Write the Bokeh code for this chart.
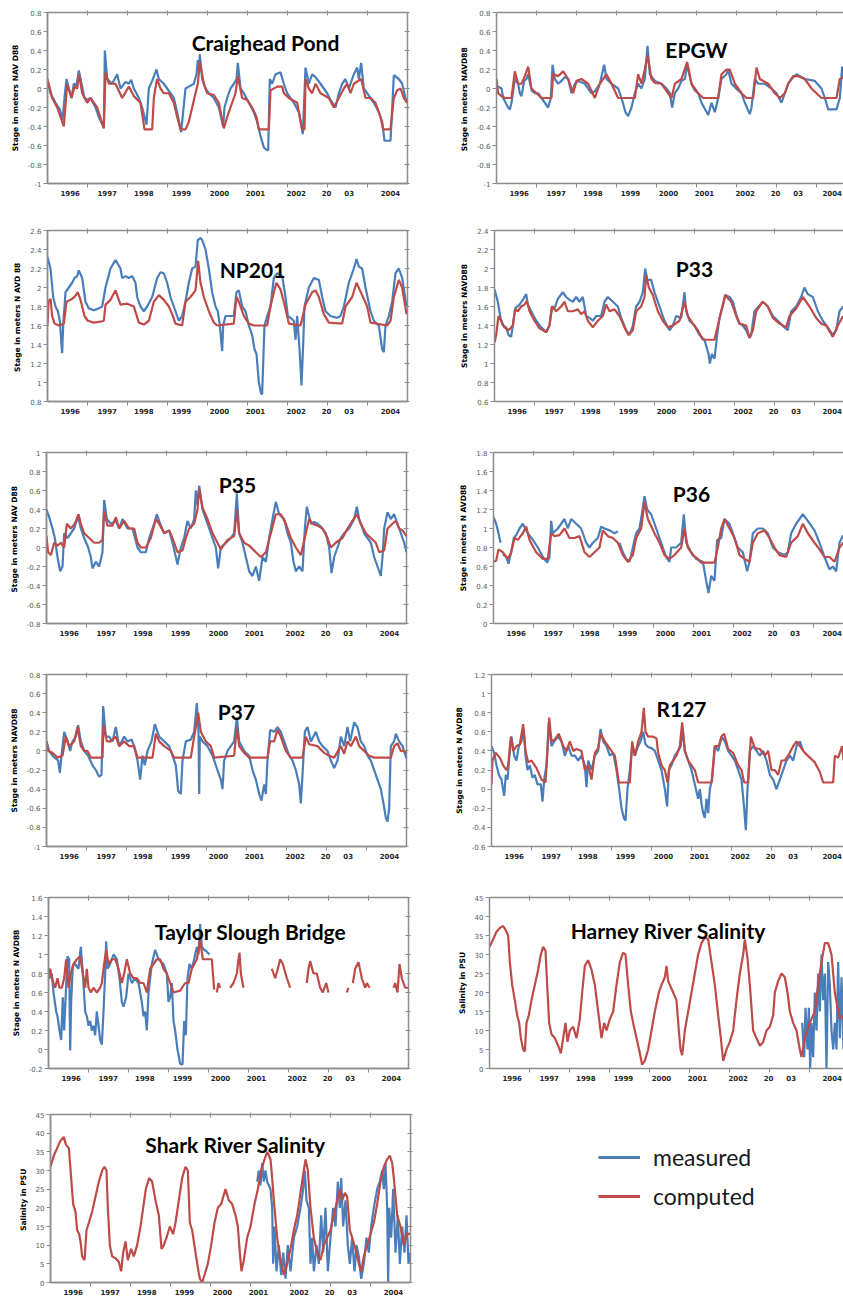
from bokeh.plotting import figure
from bokeh.layouts import row, column
from bokeh.models import Range1d, FixedTicker, LinearAxis, Label, Legend, LegendItem
from bokeh.embed import file_html
from bokeh.resources import INLINE

NAN = float("nan")

# ---------------- axis data (time in months since Jan 1996) ----------------
X_LABEL_POS = [6.8, 17.9, 28.9, 40.2, 51.6, 62.4, 74.6, 83.7, 90.5, 102.9]
X_LABEL_TEXT = ["1996", "1997", "1998", "1999", "2000", "2001", "2002", "20", "03", "2004"]
YEAR_BOUNDS = [12, 24, 36, 48, 60, 72, 84, 96]

YT_M1_08 = [-1, -0.8, -0.6, -0.4, -0.2, 0, 0.2, 0.4, 0.6, 0.8]
YT_08_26 = [0.8, 1, 1.2, 1.4, 1.6, 1.8, 2, 2.2, 2.4, 2.6]
YT_06_24 = [0.6, 0.8, 1, 1.2, 1.4, 1.6, 1.8, 2, 2.2, 2.4]
YT_M08_1 = [-0.8, -0.6, -0.4, -0.2, 0, 0.2, 0.4, 0.6, 0.8, 1]
YT_0_18 = [0, 0.2, 0.4, 0.6, 0.8, 1, 1.2, 1.4, 1.6, 1.8]
YT_M06_12 = [-0.6, -0.4, -0.2, 0, 0.2, 0.4, 0.6, 0.8, 1, 1.2]
YT_M02_16 = [-0.2, 0, 0.2, 0.4, 0.6, 0.8, 1, 1.2, 1.4, 1.6]
YT_SAL = [0, 5, 10, 15, 20, 25, 30, 35, 40, 45]

# ---------------- series: (month, value) ----------------
craighead_measured = [(0,.08),(0.9,-.05),(2.4,-.15),(3.7,-.22),(4.5,-.33),(5.1,-.1),(5.7,.1),(6.4,0),(7.2,-.1),(7.9,.05),(8.7,.03),(9.4,.19),(11.1,-.1),(12.1,-.12),(12.9,-.1),(14.4,-.2),(15.4,-.3),(16.9,-.41),(17.2,.4),(17.9,.1),(19.4,.05),(20.9,.15),(21.9,0),(23.4,.07),(24.4,.05),(25.1,.09),(25.9,0),(27.4,-.1),(28.4,-.2),(29.7,-.38),(30.4,0),(31.4,.08),(32.7,.2),(33.4,.1),(34.9,.05),(36.9,-.05),(37.9,-.1),(38.9,-.25),(40.1,-.46),(41.4,0),(42.4,.02),(43.9,.05),(44.7,.15),(45.1,.3),(45.4,.2),(45.7,.36),(46.4,.1),(47.4,0),(48.4,-.05),(49.9,-.1),(51.4,-.2),(52.7,-.4),(53.1,-.2),(53.9,-.1),(54.9,0),(55.9,.05),(56.7,.1),(57.1,.27),(57.9,0),(58.9,-.05),(60.4,-.15),(61.9,-.25),(62.9,-.35),(63.9,-.5),(64.9,-.62),(65.9,-.65),(66.2,-.65),(66.7,.1),(67.4,.05),(68.4,.15),(69.9,.17),(70.9,.05),(71.9,-.05),(73.9,-.15),(75.4,-.25),(76.6,-.48),(77.4,.22),(78.4,.05),(79.4,.15),(80.4,.12),(81.9,.05),(83.9,-.05),(84.9,-.12),(86.4,-.2),(87.4,-.05),(88.4,.05),(89.4,.1),(90.4,0),(91.9,.15),(92.9,.22),(93.4,.1),(94.1,.27),(94.9,0),(95.9,-.05),(97.9,-.15),(99.4,-.25),(100.4,-.35),(101.1,-.55),(102.9,-.55),(103.9,.14),(105.4,.1),(106.4,.05),(107.4,-.1),(107.9,-.15)]
craighead_computed = [(0,.1),(1.4,-.1),(2.9,-.2),(4.4,-.35),(4.9,-.4),(5.9,.05),(7.2,-.1),(8.1,.02),(8.9,0),(9.5,.15),(10.4,-.05),(11.9,-.15),(12.9,-.1),(14.9,-.2),(16.9,-.42),(17.4,.17),(18.4,.05),(20.4,.05),(22.4,-.1),(24.4,.02),(25.9,-.08),(27.9,-.15),(29.1,-.43),(31.4,-.43),(31.9,-.1),(32.6,.05),(32.9,.1),(33.9,0),(34.9,-.05),(36.4,-.05),(37.9,-.15),(38.9,-.3),(39.9,-.43),(41.4,-.43),(42.4,-.35),(43.4,-.2),(44.4,-.05),(45.1,.05),(45.7,.28),(46.9,.05),(47.9,-.05),(49.9,-.07),(51.4,-.15),(52.9,-.42),(53.9,-.3),(54.9,-.2),(56.4,-.05),(57.1,.13),(58.4,-.1),(59.9,-.12),(61.4,-.2),(62.7,-.3),(63.4,-.43),(66.4,-.43),(66.9,-.02),(68.9,.02),(70.4,.02),(70.9,-.05),(72.4,-.1),(74.9,-.15),(76.4,-.43),(77.1,-.43),(77.4,.1),(78.4,0),(79.4,-.05),(80.4,.05),(81.9,-.05),(84.4,-.1),(85.9,-.2),(87.4,-.1),(88.9,0),(89.9,.05),(90.9,-.05),(91.9,.05),(94.1,.1),(95.4,-.1),(96.9,-.1),(98.4,-.15),(99.9,-.3),(100.7,-.43),(102.9,-.43),(103.9,-.1),(104.9,-.02),(105.9,0),(106.9,-.1),(107.9,-.15)]

epgw_measured = [(0.5,.02),(1.5,0),(2,-.1),(3.5,-.2),(4,-.22),(4.5,-.15),(5.5,.1),(6.5,.05),(7,-.05),(7.5,-.08),(8.3,.08),(9,.1),(9.5,.15),(10.5,-.02),(11.5,-.05),(12.5,-.05),(13.5,-.1),(15.5,-.2),(16.3,-.1),(16.8,.25),(17.5,.1),(18.5,.05),(19.5,.08),(20.5,.12),(21.5,.1),(22.5,-.05),(23.5,.05),(24.5,.08),(26.5,.05),(27.5,0),(28.5,-.05),(29.5,-.03),(31,.05),(32.3,.25),(33,.1),(34.5,.05),(36.5,0),(37.5,-.1),(38.7,-.25),(39.5,-.29),(40.5,-.2),(41.5,-.05),(42.5,.05),(43.5,0),(44.5,.1),(45.3,.45),(46,.15),(47.5,.08),(49.5,.05),(51,0),(52,-.05),(52.7,-.2),(53.5,-.05),(54.5,0),(55.5,.08),(56.5,.1),(57.2,.25),(58.5,.05),(59.5,-.02),(60.5,-.05),(61.5,-.15),(63.5,-.28),(64.5,-.15),(65.5,-.25),(66.5,-.1),(67.5,.1),(69,.15),(69.5,.2),(70.5,.05),(72.5,-.02),(73.5,-.05),(74.5,-.15),(76,-.27),(76.5,-.2),(77.5,.1),(78.5,.05),(80.5,.05),(82.5,0),(84,-.05),(85.5,-.15),(86.5,-.05),(87.5,.05),(88.5,.1),(90,.15),(92.5,.1),(95.5,.08),(97.5,0),(98.5,-.1),(99.5,-.22),(102,-.22),(103,-.1),(103.7,.23),(104.1,.1)]
epgw_computed = [(0,.1),(0.5,-.05),(1.5,-.08),(2.5,-.1),(4.5,-.1),(5.5,.18),(6.5,.05),(7.5,.05),(8.5,.13),(9.5,.23),(10.5,0),(12,-.05),(13.5,-.1),(16.5,-.1),(17,.15),(18.5,.13),(20,.18),(21.5,.1),(23,-.05),(24,.08),(25.5,.1),(27.5,.05),(29.5,-.1),(31,.05),(32,.1),(33,.15),(34.5,.05),(36.5,-.1),(41.5,-.1),(42.5,.15),(43.5,.05),(44.5,.2),(45.3,.35),(46.5,.1),(47.5,.06),(49.5,.05),(51.5,-.05),(52.5,-.1),(53.5,.05),(55.5,.1),(57.2,.28),(58.5,.05),(60.5,-.05),(62,-.1),(66.5,-.1),(67.5,.15),(69,.2),(70,.2),(71.5,.05),(73.5,-.05),(75,-.1),(77,-.1),(78,.22),(79,.1),(81.5,.05),(83.5,-.05),(85,-.1),(86.5,-.05),(87.5,.05),(89,.13),(90.5,.13),(92.5,.1),(94.5,0),(96,-.05),(97.5,-.1),(102,-.1),(103,.1),(104.1,.12)]

np201_measured = [(0,2.32),(0.9,2.2),(1.7,1.9),(2.4,1.8),(3.1,1.75),(3.7,1.65),(4.2,1.4),(4.4,1.31),(4.7,1.6),(5.4,1.95),(6.4,2.0),(7.4,2.05),(8.1,2.1),(8.9,2.12),(9.4,2.18),(10.4,2.1),(11.4,1.85),(12.4,1.78),(13.9,1.76),(15.4,1.78),(16.4,1.8),(17.4,2.0),(18.9,2.2),(20.4,2.29),(21.9,2.2),(22.4,2.1),(23.4,2.12),(24.4,2.1),(25.4,2.12),(26.4,2.05),(26.9,1.9),(27.9,1.8),(28.9,1.75),(29.9,1.8),(31.4,1.9),(32.9,2.1),(33.9,2.16),(34.9,2.15),(35.9,2.05),(36.9,1.9),(38.4,1.75),(39.4,1.65),(40.4,1.7),(41.4,1.85),(42.4,2.05),(43.4,2.2),(44.4,2.22),(45.1,2.5),(45.9,2.52),(46.4,2.5),(47.4,2.4),(48.4,2.2),(49.4,1.95),(50.4,1.8),(51.1,1.75),(51.7,1.6),(52.4,1.33),(52.7,1.6),(53.4,1.7),(54.9,1.7),(55.9,1.7),(56.7,1.95),(57.4,1.97),(58.4,1.8),(59.4,1.75),(60.4,1.6),(61.4,1.5),(62.1,1.35),(62.7,1.3),(63.4,1.0),(64.1,0.88),(64.4,0.88),(64.8,1.3),(65.1,1.6),(65.9,1.7),(66.9,1.8),(67.9,2.1),(68.9,2.15),(70.4,2.12),(71.4,1.9),(72.1,1.7),(72.9,1.68),(73.9,1.65),(74.4,1.45),(74.9,1.7),(75.7,1.3),(76.2,0.97),(76.7,1.4),(77.1,1.8),(78.4,2.0),(79.9,2.1),(81.4,2.08),(82.4,1.9),(83.4,1.75),(84.9,1.7),(86.9,1.68),(87.9,1.7),(88.9,1.8),(90.4,2.05),(91.9,2.2),(92.7,2.3),(93.4,2.22),(94.4,2.2),(95.4,2.0),(96.9,1.75),(97.9,1.65),(99.4,1.6),(100.4,1.35),(100.9,1.32),(101.4,1.6),(102.4,1.7),(103.4,1.85),(104.4,2.15),(105.4,2.2),(106.4,2.1),(107.7,1.8)]
np201_computed = [(0,1.6),(0.3,1.85),(0.9,1.88),(1.4,1.7),(2.1,1.62),(3.4,1.6),(4.9,1.62),(5.7,1.85),(6.9,1.87),(8.1,1.9),(9.1,1.95),(9.9,1.87),(11.1,1.7),(12.1,1.65),(13.9,1.63),(15.9,1.64),(16.9,1.65),(17.4,1.82),(18.9,1.87),(20.4,1.97),(21.9,1.82),(23.9,1.83),(25.9,1.8),(27.4,1.63),(28.9,1.61),(30.4,1.65),(31.9,1.85),(33.4,1.92),(34.9,1.87),(36.4,1.8),(37.4,1.72),(38.4,1.62),(40.4,1.6),(41.4,1.85),(42.9,1.9),(44.4,1.97),(45.2,2.28),(45.9,2.05),(46.9,1.9),(48.4,1.75),(49.9,1.63),(50.9,1.6),(55.9,1.62),(56.7,1.9),(57.4,1.85),(58.9,1.7),(60.4,1.62),(61.9,1.6),(65.9,1.6),(66.9,1.8),(67.9,1.95),(68.7,2.05),(69.9,1.98),(70.9,1.85),(72.4,1.62),(75.9,1.6),(77.4,1.82),(79.4,1.95),(80.4,1.97),(81.4,1.9),(82.9,1.72),(84.4,1.63),(88.4,1.62),(89.4,1.8),(91.4,1.9),(92.7,2.05),(94.4,1.92),(95.9,1.8),(96.9,1.63),(101.9,1.6),(102.9,1.65),(103.9,1.9),(105.4,2.08),(106.4,2.0),(107.7,1.72)]

p33_measured = [(0,1.78),(1,1.65),(1.8,1.48),(2.5,1.4),(3.5,1.38),(4.2,1.3),(5,1.28),(5.5,1.4),(6.2,1.58),(7.5,1.62),(8.5,1.67),(9.5,1.73),(10,1.62),(11,1.55),(12.5,1.45),(14,1.38),(15.5,1.33),(16.5,1.4),(17.2,1.6),(18,1.58),(19,1.68),(20.5,1.75),(21.5,1.7),(22.5,1.67),(23.5,1.65),(24.5,1.7),(25.5,1.65),(26.5,1.7),(27.5,1.5),(28.5,1.48),(29.5,1.45),(30.5,1.5),(32,1.5),(33,1.65),(34,1.7),(35.5,1.65),(37,1.6),(38,1.48),(39.5,1.35),(40.5,1.3),(41.5,1.4),(42.5,1.6),(43.5,1.65),(44.5,1.75),(45.2,2.0),(45.8,1.88),(47,1.88),(48,1.75),(49.5,1.6),(51,1.45),(52.5,1.35),(53.5,1.4),(54.5,1.5),(56,1.48),(57,1.75),(57.5,1.55),(58.5,1.45),(60,1.4),(61.5,1.3),(63,1.25),(64.2,1.1),(64.6,1.0),(65.2,1.1),(66,1.05),(66.8,1.3),(67.5,1.48),(68.5,1.6),(69.2,1.72),(70.5,1.7),(71.5,1.65),(72.5,1.52),(73.5,1.42),(74.5,1.4),(75.5,1.35),(76.5,1.27),(77,1.3),(78,1.55),(79.2,1.6),(80.5,1.65),(82,1.6),(83.5,1.5),(85,1.45),(87,1.38),(88,1.35),(89,1.55),(90.5,1.6),(92,1.7),(93,1.8),(94,1.73),(95.5,1.7),(97,1.55),(98.5,1.45),(100,1.38),(101.5,1.3),(102.5,1.35),(103.5,1.55),(104.6,1.6)]
p33_computed = [(0,1.22),(0.5,1.3),(1.2,1.5),(2,1.45),(3,1.38),(4.2,1.35),(5.5,1.4),(6.2,1.57),(7,1.55),(8,1.6),(9,1.62),(9.7,1.66),(10.5,1.55),(12,1.45),(13.5,1.37),(15.5,1.33),(16.5,1.4),(17.3,1.6),(18.5,1.55),(20,1.6),(21,1.65),(22,1.55),(23.5,1.55),(25,1.57),(26,1.52),(27,1.55),(28,1.45),(29.5,1.38),(31,1.45),(32.5,1.5),(33.5,1.62),(34.5,1.55),(36,1.57),(37.5,1.5),(39,1.38),(40.2,1.3),(41.5,1.35),(42.5,1.55),(44,1.6),(45,1.7),(45.5,1.93),(46.3,1.8),(47.5,1.72),(49,1.55),(50.5,1.45),(52,1.38),(53.5,1.4),(55.5,1.45),(57,1.65),(58,1.5),(59.5,1.42),(61,1.35),(62.5,1.25),(66,1.25),(67,1.4),(68,1.55),(69.2,1.72),(71,1.65),(72.5,1.5),(73.5,1.42),(75.5,1.4),(76.5,1.27),(77.5,1.35),(78.5,1.55),(80.5,1.65),(82,1.6),(83.5,1.48),(85.5,1.42),(87.5,1.38),(88.5,1.5),(90.5,1.58),(92.5,1.7),(94.5,1.6),(96.5,1.48),(98,1.42),(99.5,1.4),(101.5,1.28),(103,1.4),(104.6,1.5)]

p35_measured = [(0,.4),(0.8,.32),(1.8,.2),(2.5,.1),(3.3,-.1),(4.1,-.25),(4.8,-.2),(5.3,.15),(6.3,.1),(7.3,.15),(8.3,.2),(9.5,.33),(10.3,.2),(11.3,.1),(12.5,0),(13.3,-.1),(13.8,-.22),(14.8,-.15),(15.8,-.2),(16.8,-.05),(17.3,.5),(18.1,.3),(19.3,.25),(20.8,.28),(21.8,.2),(22.8,.3),(24.3,.2),(25.8,.2),(27.3,0),(28.3,-.05),(29.8,-.05),(30.8,.1),(32.3,.25),(33.1,.35),(34.1,.25),(35.3,.15),(36.8,.18),(37.8,.05),(38.8,-.1),(39.3,-.18),(40.3,0),(41.3,.1),(42.3,.28),(43.3,.2),(44.3,.3),(44.8,.6),(45.3,.45),(45.8,.65),(46.8,.4),(48.3,.25),(49.8,.1),(50.8,0),(51.5,-.22),(52.3,0),(53.8,.05),(55.3,.1),(56.3,.15),(57.1,.57),(57.8,.15),(58.8,.05),(59.8,-.1),(60.8,-.25),(61.8,-.3),(62.8,-.2),(63.8,-.35),(64.8,-.1),(65.8,-.15),(66.8,.1),(67.8,.3),(68.8,.48),(69.8,.35),(71.3,.3),(72.3,.15),(73.3,.05),(74.1,-.15),(74.8,-.25),(75.8,-.2),(76.8,-.25),(77.5,.2),(78.1,.43),(79.3,.25),(80.3,.27),(81.3,.25),(82.3,.22),(83.8,.15),(84.8,0),(85.5,-.27),(86.3,-.1),(87.3,0),(88.3,.1),(89.3,.15),(90.8,.2),(92.3,.3),(93.1,.43),(93.8,.3),(95.3,.15),(96.3,.1),(97.3,.05),(98.3,-.1),(99.3,-.2),(100.3,-.3),(100.8,-.1),(101.3,.2),(102.3,.37),(103.3,.3),(104.3,.35),(105.3,.25),(106.3,.15),(107.3,.05),(108,-.05)]
p35_computed = [(0,.12),(0.5,-.05),(1.3,-.08),(2.3,.05),(3.3,.02),(4.3,.05),(5.3,0),(6.1,.25),(7.3,.2),(8.5,.25),(9.6,.35),(10.3,.25),(11.3,.15),(12.8,.1),(14.3,.05),(15.8,.05),(16.8,.08),(17.3,.38),(18.3,.23),(19.8,.23),(20.8,.32),(21.8,.2),(23.3,.28),(24.8,.2),(26.3,.2),(27.3,.05),(28.3,0),(29.8,0),(31.3,.1),(32.8,.3),(33.8,.25),(35.3,.15),(36.8,.18),(37.8,.1),(39.3,-.05),(40.8,-.03),(41.8,.1),(42.8,.2),(44.3,.25),(45.3,.4),(45.8,.62),(46.8,.42),(48.3,.3),(49.8,.15),(51.3,.05),(52.3,-.02),(54.3,.08),(56.3,.12),(57.1,.4),(57.8,.15),(59.3,.05),(60.8,.02),(62.8,-.05),(64.3,-.1),(65.8,-.05),(67.3,.15),(68.8,.35),(70.3,.35),(71.8,.25),(73.3,.1),(74.8,0),(76.3,-.08),(77.8,.15),(78.8,.3),(79.8,.25),(81.3,.23),(82.8,.2),(84.3,.1),(85.3,0),(86.8,.05),(88.8,.1),(90.3,.2),(91.8,.28),(93.1,.35),(94.3,.25),(95.8,.15),(97.3,.1),(98.8,.05),(99.8,-.05),(101.3,-.03),(102.3,.2),(103.8,.25),(104.8,.28),(105.8,.2),(106.8,.18),(108,.12)]

p36_measured = [(0,1.12),(0.8,1.05),(1.5,.95),(2.1,.85),(NAN,NAN),(2.8,.73),(3.8,.7),(4.5,.63),(5.3,.75),(6.1,.9),(6.8,.93),(7.8,1.0),(8.8,1.05),(9.5,1.0),(10.3,.95),(11.8,.88),(13.3,.8),(14.8,.7),(16.1,.64),(16.8,.7),(17.3,1.08),(17.8,.95),(19.3,1.0),(20.3,1.05),(21.3,1.1),(22.3,1.0),(23.3,1.1),(24.8,1.05),(26.3,1.0),(27.8,.85),(28.8,.8),(29.8,.85),(31.3,.9),(32.3,1.02),(33.3,1.0),(34.8,.98),(36.3,.95),(37.3,.97),(NAN,NAN),(37.8,.85),(38.8,.75),(39.8,.68),(40.8,.65),(41.8,.8),(42.8,.95),(43.8,1.0),(44.5,1.15),(45.3,1.34),(46.1,1.2),(47.3,1.15),(48.8,1.0),(50.3,.85),(51.8,.7),(52.8,.65),(53.3,.8),(54.8,.8),(56.3,.85),(57.1,1.15),(57.8,.85),(59.3,.75),(60.8,.68),(62.8,.65),(63.8,.45),(64.5,.32),(65.3,.5),(66.3,.45),(67.1,.88),(68.3,.9),(69.3,1.1),(70.8,1.05),(71.8,.95),(73.3,.8),(74.8,.75),(76.1,.55),(76.8,.65),(77.8,.95),(79.3,1.0),(80.8,1.0),(82.3,.95),(83.8,.8),(85.3,.75),(87.3,.72),(88.3,.75),(89.3,.95),(90.8,1.05),(92.8,1.15),(94.3,1.08),(96.3,.98),(97.8,.85),(99.3,.7),(100.8,.57),(101.8,.6),(102.8,.55),(103.8,.85),(104.9,.93)]
p36_computed = [(0,.65),(0.8,.66),(1.5,.78),(2.8,.75),(4.3,.68),(5.3,.75),(6.3,.9),(7.3,.88),(8.8,.95),(9.8,1.02),(10.8,.88),(12.8,.75),(14.8,.68),(16.3,.68),(17.3,.95),(18.3,.92),(19.8,.93),(21.3,1.0),(22.8,.9),(24.3,.9),(25.8,.92),(27.3,.75),(28.8,.7),(30.3,.75),(31.8,.8),(32.8,.98),(34.3,.92),(35.8,.9),(37.3,.85),(38.8,.72),(40.3,.65),(41.8,.72),(42.8,.9),(44.3,1.0),(45.3,1.28),(46.3,1.1),(48.3,.95),(49.8,.85),(51.3,.72),(52.8,.68),(54.3,.72),(56.3,.8),(57.3,1.0),(58.3,.8),(59.8,.72),(61.3,.68),(62.3,.64),(66.3,.64),(67.3,.8),(68.3,1.0),(69.3,1.1),(70.8,1.0),(72.3,.9),(73.8,.72),(75.3,.68),(76.8,.65),(77.8,.85),(79.3,.95),(81.3,.98),(82.8,.9),(84.3,.8),(85.8,.72),(87.8,.7),(89.3,.85),(91.3,.92),(92.8,1.05),(94.3,.95),(96.3,.85),(97.8,.78),(99.3,.7),(100.8,.7),(102.3,.65),(103.8,.8),(104.9,.85)]

p37_measured = [(0,.1),(0.8,0),(1.8,-.05),(2.8,-.08),(3.5,-.1),(4,-.23),(4.5,-.05),(5.3,.2),(6.3,.1),(7.1,0),(7.8,.1),(8.8,.15),(9.5,.27),(10.3,.1),(11.3,0),(12.5,-.05),(13.8,-.15),(14.8,-.2),(15.8,-.27),(16.5,-.25),(17,.47),(17.8,.15),(18.8,.15),(19.8,.1),(20.8,.25),(21.8,.05),(23.3,.15),(24.3,.1),(25.5,.12),(26.3,.05),(27.3,-.1),(28.1,-.3),(28.8,-.05),(29.5,-.15),(30.3,0),(31.5,.1),(32.5,.28),(33.8,.15),(35.3,.1),(36.8,.05),(37.8,-.05),(38.8,-.15),(39.5,-.42),(40.3,-.45),(40.8,-.1),(41.8,.1),(43.3,.12),(44.3,.2),(45.1,.5),(45.6,.2),(45.8,-.45),(46,.15),(46.8,.1),(48.3,.05),(49.8,-.05),(51.3,-.2),(52.3,-.3),(52.8,-.4),(53.3,-.1),(54.3,0),(55.3,.05),(56.3,.1),(57.1,.35),(57.8,.1),(59.3,0),(60.8,-.05),(61.8,-.2),(62.8,-.3),(63.8,-.45),(64.5,-.52),(65.3,-.35),(65.8,-.45),(66.3,-.1),(67.1,.22),(68.3,.2),(69.3,.25),(70.3,.2),(71.3,.1),(72.8,-.05),(73.8,-.1),(74.8,-.2),(75.8,-.35),(76.3,-.55),(76.8,-.25),(77.5,.2),(78.3,.25),(79.3,.1),(80.8,.2),(81.8,.1),(82.8,.05),(84.3,0),(85.3,-.1),(86.3,-.18),(87.3,-.1),(88.3,.15),(89.3,.05),(90.3,.25),(91.1,.1),(92.3,.3),(93.3,.25),(94.3,.1),(95.3,.05),(96.3,-.05),(97.3,-.1),(98.3,-.2),(99.3,-.3),(100.3,-.4),(101.1,-.55),(101.8,-.7),(102.3,-.74),(102.8,-.6),(103.3,.05),(104.3,.1),(104.8,.18),(105.8,.1),(106.8,.05),(108,-.08)]
p37_computed = [(0,.1),(0.5,0),(1.8,-.02),(3.3,-.07),(4.8,-.05),(5.8,.15),(6.8,.05),(8.3,.1),(9.3,.25),(10.3,.05),(11.3,0),(12.3,0),(13.3,-.07),(16.8,-.07),(17.1,.27),(18.1,.1),(19.3,.1),(20.8,.15),(21.8,.05),(23.3,.1),(24.8,.05),(26.3,.05),(27.3,-.07),(31.8,-.07),(32.8,.18),(33.8,.1),(35.3,.05),(37.3,0),(38.3,-.07),(43.3,-.07),(44.3,.15),(45.5,.4),(46.3,.2),(47.8,.1),(49.3,.05),(50.3,-.07),(56.3,-.05),(57.1,.25),(57.8,.05),(59.3,-.02),(60.8,-.07),(66.3,-.07),(67.1,.1),(68.3,.1),(69.3,.22),(70.3,.15),(71.8,0),(73.3,-.07),(76.8,-.07),(77.8,.15),(78.8,.07),(81.3,.05),(83.3,-.02),(84.8,-.05),(86.3,-.07),(88.3,.05),(89.3,-.03),(90.3,.1),(91.3,.05),(92.8,.15),(93.8,.05),(95.3,0),(96.8,-.05),(98.3,-.07),(103.3,-.07),(104.3,.05),(105.3,.08),(106.3,0),(107.3,0),(108,-.02)]

r127_measured = [(0,.45),(0.8,.38),(1.5,.25),(2.2,.15),(3,.1),(3.8,-.07),(4.3,.15),(4.8,.1),(5.5,.4),(6,.55),(6.8,.35),(7.5,.3),(8.2,.45),(9,.5),(9.7,.62),(10.2,.35),(10.8,.2),(11.5,.25),(12.3,.12),(13,.15),(13.8,.05),(14.8,.05),(15.3,-.13),(15.8,.1),(16.5,.25),(17.2,.7),(18,.45),(18.8,.5),(20,.55),(21,.5),(22,.35),(23,.45),(24,.35),(25,.35),(26,.3),(27,.35),(28,.25),(28.5,.02),(29,.3),(30,.2),(31,.35),(32,.4),(32.7,.63),(33.5,.5),(34.5,.45),(35.5,.35),(36.5,.38),(37.5,.2),(38.3,0),(39,-.2),(39.7,-.3),(40.2,-.33),(40.8,0),(41.5,.2),(42.2,.45),(43,.35),(44,.45),(44.7,.5),(45.5,.6),(46.2,.47),(47,.44),(48,.43),(49,.4),(50,.3),(51,.2),(52,0),(52.7,-.18),(53.2,.2),(54,.25),(55,.35),(56,.4),(56.8,.45),(57.3,.65),(58,.4),(59,.3),(60,.2),(61,.05),(62,-.1),(62.5,0),(63,-.15),(63.5,-.25),(64,-.3),(64.5,-.1),(65,-.25),(65.5,0),(66.2,.1),(67,.45),(68,.4),(69,.55),(70,.5),(71,.4),(72,.35),(73,.3),(74,.2),(75,.1),(75.8,-.2),(76.3,-.43),(76.8,0),(77.5,.4),(78.5,.45),(79.5,.4),(80.5,.35),(81.5,.4),(82.5,.3),(83.5,.15),(84.5,.1),(85.5,0),(86.5,.1),(87.5,.2),(88.5,.3),(89.5,.35),(90.5,.3),(91.5,.45),(92.5,.5),(93.5,.4)]
r127_computed = [(0,.05),(0.3,.3),(1.2,.38),(2.5,.33),(3.5,.25),(4.5,.2),(5,.25),(5.8,.55),(6.5,.4),(7.5,.45),(8.5,.47),(9.5,.68),(10.2,.4),(11,.28),(12,.3),(13.5,.22),(15,.1),(16.2,.07),(16.8,.4),(17.3,.75),(18,.5),(19,.52),(20.2,.58),(21.5,.45),(22.5,.4),(23.5,.5),(24.5,.4),(25.5,.42),(27,.4),(28,.2),(29,.25),(30,.1),(31,.38),(32,.43),(32.7,.58),(34,.5),(35,.45),(36,.4),(37,.35),(38.2,.07),(41.5,.07),(42.2,.5),(43,.35),(44,.5),(45,.6),(45.7,.85),(46.2,.6),(47,.55),(48.5,.55),(49.5,.53),(50,.38),(51,.25),(52,.2),(52.8,.07),(53.5,.25),(54.5,.3),(55.5,.35),(56.5,.45),(57.2,.7),(58,.4),(59,.3),(60,.25),(61,.2),(62,.07),(66,.07),(67,.45),(68.2,.45),(69,.55),(69.8,.58),(71,.42),(72.5,.38),(74,.25),(75,.2),(75.8,.07),(77,.07),(77.8,.55),(79,.43),(80.5,.42),(82,.35),(83,.4),(84,.2),(85,.2),(86,.15),(87,.3),(88,.3),(89,.35),(90.5,.45),(91.5,.5),(92.5,.45),(94,.38),(95.5,.33),(97,.28),(98.5,.18),(99.5,.07),(102.5,.07),(103,.35),(104,.33),(105.2,.45),(105.6,.3)]

taylor_measured = [(0,.85),(0.5,.75),(1,.8),(1.5,.6),(2.3,.4),(2.7,.35),(3.3,.2),(3.8,.1),(4.3,.55),(4.7,.2),(5.2,.6),(5.7,.98),(6.2,.95),(6.5,-.01),(6.8,.5),(7.3,.88),(8,.9),(9,.85),(9.7,1.08),(10.3,.8),(11,.4),(11.5,.35),(12,.25),(12.5,.3),(13,.2),(13.5,.25),(14,.15),(14.5,.4),(15,.25),(15.5,.1),(16,.05),(16.5,.4),(17,.8),(17.3,1.14),(17.7,.85),(18.5,.9),(19.5,1.0),(20.5,.95),(21.3,.75),(22,.5),(22.5,.45),(23.3,.55),(24,.8),(25,.7),(26,.75),(27,.7),(28,.5),(28.5,.35),(29,.4),(29.5,.2),(30,.6),(31,.9),(32,1.05),(33,.95),(34.5,.9),(35.5,.8),(36,.5),(36.5,.55),(37,.7),(37.5,.3),(38,.2),(38.7,0),(39.5,-.15),(40.2,-.16),(40.7,.3),(41.2,.15),(41.7,.75),(42.3,.9),(43,.85),(43.7,.95),(44.5,1.08),(45,1.0),(45.5,1.32),(46,1.08),(46.7,1.05),(47.5,1.03),(48.3,1.0)]
taylor_computed = [(0,.75),(0.5,.85),(1,.75),(1.5,.7),(2,.65),(2.7,.75),(3.3,.65),(4,.65),(4.7,.75),(5.3,.95),(6,.65),(6.7,.8),(7.5,.9),(8.5,.95),(9.5,.98),(10.3,.8),(11,.65),(11.5,.85),(12,.65),(12.7,.6),(13.5,.65),(14.5,.6),(15.5,.65),(16,.7),(16.7,.9),(17.3,1.05),(18,.9),(19,.95),(20,.95),(21,.85),(22,.7),(22.7,.8),(23.5,.95),(24.5,.8),(25.5,.75),(26.5,.75),(27.5,.7),(28.5,.7),(29.5,.6),(30.5,.85),(31.5,.9),(32.5,.95),(33.5,.95),(34.5,.85),(35.5,.8),(36.5,.7),(37.5,.6),(39.5,.62),(41,.7),(42,.7),(43,.85),(44.5,.95),(45.5,1.15),(46.3,.95),(47.5,.95),(49,.95),(49.7,.63),(NAN,NAN),(50.5,.6),(51,.7),(51.5,.65),(NAN,NAN),(54.5,.65),(55.5,.7),(56.5,.8),(57,.95),(57.3,1.02),(57.7,.8),(58.5,.65),(NAN,NAN),(67,.85),(68,.75),(68.8,.85),(69.5,.95),(70.3,.9),(71.5,.75),(72.5,.65),(NAN,NAN),(77.5,.7),(78,.85),(78.5,.93),(79.5,.8),(80.5,.8),(81.5,.65),(82.3,.6),(83.3,.7),(84,.6),(NAN,NAN),(89.5,.6),(90,.65),(NAN,NAN),(91.3,.7),(92,.85),(93,.92),(94,.75),(95,.65),(95.5,.7),(96.3,.65),(NAN,NAN),(103.5,.65),(104,.7),(104.7,.6),(105.3,.9),(106,.75),(107,.65),(108,.65)]

harney_measured = [(93.8,12),(94.4,3),(94.8,16),(95.4,5),(95.8,16),(96.2,0),(96.6,12),(97.1,3),(97.6,20),(98.1,10),(98.6,25),(99.1,15),(99.6,30),(100.1,18),(100.6,25),(101.1,0),(101.6,28),(102.1,22),(102.6,10),(103.1,5),(103.6,12),(104.1,5),(104.6,28),(105.1,8),(105.6,24),(106.2,5)]
harney_computed = [(0,32),(1.1,34),(2.1,36),(3.1,37),(4.1,37.5),(4.8,36.5),(5.6,35),(6.1,28),(6.8,22),(7.6,18),(8.3,14),(8.9,12),(9.4,8),(10.1,5),(10.6,4.5),(11.1,12),(11.8,14),(12.6,18),(13.6,22),(14.6,26),(15.4,30),(16.1,32),(16.8,31),(17.3,22),(17.9,12),(18.6,9),(19.6,8),(20.6,6),(21.4,4),(22.1,8),(22.8,12),(23.4,7),(24.1,10),(25.1,11),(26.1,8),(27.1,13),(27.8,20),(28.6,27),(29.6,28.5),(30.6,26),(31.6,22),(32.6,15),(33.6,8),(34.4,12),(35.1,10),(36.1,13),(37.1,15),(38.1,22),(39.1,28),(40.1,30.5),(40.8,30),(41.6,22),(42.4,15),(43.1,12),(44.1,8),(45.1,4),(45.8,1),(46.6,2),(47.6,5),(48.6,10),(49.6,15),(50.8,20),(51.6,22),(52.6,24),(53.1,27),(53.6,23),(55.1,20),(56.1,18),(56.8,10),(57.3,5),(57.8,3.5),(58.6,10),(59.6,15),(60.6,20),(61.6,25),(62.6,30),(63.6,33),(64.6,34.5),(65.6,34),(66.6,28),(67.6,22),(68.6,14),(69.4,8),(70.1,2),(71.1,5),(72.1,7),(73.1,10),(74.1,18),(75.1,25),(76.1,30),(76.6,34),(77.4,29),(78.1,22),(79.1,10),(80.1,8),(81.1,6),(82.1,7),(83.1,10),(84.1,11),(85.1,14),(85.6,20),(86.6,23),(87.6,25),(88.6,24),(89.4,20),(90.1,15),(91.1,12),(92.1,10),(93.1,5),(93.6,3),(94.6,8),(96.1,12),(97.6,15),(98.6,22),(99.6,28),(100.6,33),(101.6,33),(102.6,30),(103.6,20),(104.6,15),(105.3,13),(106.2,14)]

shark_measured = [(62,27),(62.5,30),(63,26),(63.5,32),(64,27),(64.5,30),(65,27),(65.5,26),(66,25),(66.5,20),(66.8,5),(67.2,15),(67.8,3),(68.5,10),(69.2,2),(69.8,8),(70.5,1),(71.2,10),(72,3),(73,12),(74,15),(75,20),(75.8,25),(76.3,30),(76.8,22),(77.5,20),(78,5),(78.5,12),(79,3),(79.8,10),(80.5,5),(81.2,18),(81.8,8),(82.5,20),(83.2,3),(84,12),(84.8,20),(85.5,15),(86.2,27),(86.8,20),(87.2,28),(87.8,15),(88.5,22),(89.2,10),(89.8,5),(90.5,12),(91.2,3),(91.8,10),(92.5,7),(93.2,1),(94,5),(94.8,12),(95.5,8),(96.2,15),(97,20),(98,25),(98.8,27),(99.5,30),(100,25),(100.5,32),(101,20),(101.3,0),(101.6,20),(102.2,12),(102.8,25),(103.5,8),(104.2,18),(104.8,5),(105.5,15),(106.2,8),(106.8,18),(107.4,5),(107.8,8)]
shark_computed = [(0,31),(1,34),(2,36),(3,38),(4,39),(4.6,37),(5.5,36),(6.2,28),(6.8,21),(7.5,19),(8,14),(8.6,13),(9,11),(9.5,7),(10.2,6),(10.8,14),(11.5,16),(12.5,19),(13.5,23),(14.5,27),(15.5,30),(16.2,31),(16.8,30),(17.2,20),(17.8,10),(18.5,7),(19.5,6.5),(20.5,5.5),(21.2,3),(21.8,8),(22.5,11),(23.2,6),(24.2,9),(25,7),(26,10),(27,15),(27.8,20),(28.6,25),(29.6,28),(30.5,27),(31.5,22),(32.5,18),(33.3,9),(34,10),(34.8,12),(35.8,15),(36.8,13),(37.5,16),(38.5,22),(39.5,28),(40.5,31),(41.2,30),(41.8,16),(42.5,14),(43.5,8),(44.2,4),(44.8,1),(45.5,0),(46.2,2),(47.2,5),(48.2,10),(49.2,16),(50.2,20),(51.2,21),(52.5,25),(53.5,22),(54.5,21),(55.5,18),(56.2,15),(56.8,8),(57.3,3),(58,6),(59,12),(60,15),(61.2,21),(62.2,25),(63.2,30),(64.2,33),(65,35),(66,33),(66.5,28),(67,22),(68,12),(69,6),(70,2),(71,5),(72,9),(73,14),(74,18),(75,24),(76,30),(76.5,33),(77.2,30),(78,20),(79,12),(80,8),(81,6),(82,10),(83,12),(84,14),(85,18),(86,22),(86.8,25),(87.5,22),(88.3,24),(89,23),(89.8,14),(90.5,12),(91.5,9),(92.5,5),(93.2,3),(94,7),(95,10),(96,13),(97,16),(98,21),(99,27),(100,31),(101,33),(101.8,34),(102.5,32),(103,28),(104,18),(105,15),(106,10),(106.8,13),(107.8,13)]

LEGEND_LABELS = ["measured", "computed"]

# ---------------- styling ----------------
BLUE = "#4a7ebb"
RED = "#be4b48"
FRAME = "#8c8c8c"
TICK_FONT = "DejaVu Sans"
TITLE_FONT = "Lato"
PX_PER_MONTH = 1.0 / 0.3   # 40 px per year
LEFT_W = 430
RIGHT_W = 413


def xy(pairs):
    return [a for a, _ in pairs], [b for _, b in pairs]


def tick_only_axis(ticks, line_color):
    return LinearAxis(ticker=FixedTicker(ticks=ticks),
                      major_label_overrides={t: "" for t in ticks},
                      major_label_text_font_size="0px", major_label_standoff=0,
                      major_tick_in=3, major_tick_out=2, major_tick_line_color=FRAME,
                      minor_tick_out=0, minor_tick_in=0, minor_tick_line_color=None,
                      axis_line_color=line_color, axis_line_width=1.5)


def make_panel(title, ylabel, yticks, measured, computed, side, frame_left,
               b_top, b_bottom, height, tx, ty):
    if side == "L":
        width = LEFT_W
        mbl = frame_left
        frame_w = 360
        mbr = width - mbl - frame_w
    else:
        width = RIGHT_W
        mbl = frame_left - LEFT_W
        frame_w = width - mbl
        mbr = 0
    x_end = round(frame_w / PX_PER_MONTH, 2)

    p = figure(width=width, height=height, output_backend="svg", toolbar_location=None,
               x_range=Range1d(0, x_end), y_range=Range1d(yticks[0], yticks[-1]),
               min_border_left=mbl, min_border_right=mbr,
               min_border_top=b_top, min_border_bottom=b_bottom)
    p.grid.visible = False
    p.background_fill_color = "white"
    p.border_fill_color = "white"

    mx, my = xy(measured)
    cx, cy = xy(computed)
    p.line(mx, my, line_color=BLUE, line_width=2.2)
    p.line(cx, cy, line_color=RED, line_width=2.2)

    p.add_layout(Label(x=tx, y=ty, text=title, x_units="data", y_units="data",
                       text_align="center", text_baseline="alphabetic",
                       text_font=TITLE_FONT, text_font_size="21px",
                       text_font_style="bold", text_color="#000000"))

    xa = p.xaxis[0]
    pos = [min(v, round(x_end - 3.4, 1)) for v in X_LABEL_POS]
    xa.ticker = FixedTicker(ticks=pos, minor_ticks=YEAR_BOUNDS)
    xa.major_label_overrides = {q: lab for q, lab in zip(pos, X_LABEL_TEXT)}
    xa.major_tick_out = 0
    xa.major_tick_in = 0
    xa.minor_tick_out = 4
    xa.minor_tick_in = 0
    xa.minor_tick_line_color = FRAME
    xa.minor_tick_line_width = 1
    xa.axis_line_color = FRAME
    xa.axis_line_width = 1.5
    xa.major_label_standoff = 2
    xa.major_label_text_font = TICK_FONT
    xa.major_label_text_font_size = "7px"
    xa.major_label_text_font_style = "bold"
    xa.major_label_text_color = "#262626"

    ya = p.yaxis[0]
    ya.ticker = FixedTicker(ticks=yticks)
    ya.major_label_overrides = {v: f"{v:g}" for v in yticks}
    ya.major_tick_out = 4
    ya.major_tick_in = 0
    ya.major_tick_line_color = FRAME
    ya.minor_tick_line_color = None
    ya.axis_line_color = FRAME
    ya.axis_line_width = 1.5
    ya.major_label_standoff = 2
    ya.major_label_text_font = TICK_FONT
    ya.major_label_text_font_size = "7px"
    ya.major_label_text_color = "#595959"
    ya.axis_label = ylabel
    ya.axis_label_standoff = 5
    ya.axis_label_text_font = TICK_FONT
    ya.axis_label_text_font_size = "7.5px"
    ya.axis_label_text_font_style = "bold"
    ya.axis_label_text_color = "#000000"

    if side == "L":
        p.outline_line_color = FRAME
        p.outline_line_width = 1.5
        p.outline_line_alpha = 1.0
        p.add_layout(tick_only_axis(YEAR_BOUNDS, None), "above")
        p.add_layout(tick_only_axis(yticks, None), "right")
    else:
        p.outline_line_color = None
        p.add_layout(tick_only_axis(YEAR_BOUNDS, FRAME), "above")
    return p


ROW_H = [205, 223, 222, 222, 220, 205]

craig = make_panel("Craighead Pond", "Stage in meters NAV D88", YT_M1_08,
                   craighead_measured, craighead_computed, "L", 47, 12, 22, ROW_H[0], 65.4, 0.484)
epgw = make_panel("EPGW", "Stage in meters  NAVD88", YT_M1_08,
                  epgw_measured, epgw_computed, "R", 496, 12, 22, ROW_H[0], 60.0, 0.41)
np201 = make_panel("NP201", "Stage in  meters N AVD 88", YT_08_26,
                   np201_measured, np201_computed, "L", 47, 25, 27, ROW_H[1], 61.5, 2.19)
p33 = make_panel("P33", "Stage in meters NAVD88", YT_06_24,
                 p33_measured, p33_computed, "R", 494, 25, 27, ROW_H[1], 60.0, 2.0)
p35 = make_panel("P35", "Stage in meters  NAV D88", YT_M08_1,
                 p35_measured, p35_computed, "L", 46, 24, 27, ROW_H[2], 57.3, 0.663)
p36 = make_panel("P36", "Stage in meters N AVD88", YT_0_18,
                 p36_measured, p36_computed, "R", 493, 24, 27, ROW_H[2], 59.4, 1.37)
p37 = make_panel("P37", "Stage in meters NAVD88", YT_M1_08,
                 p37_measured, p37_computed, "L", 46, 24, 26, ROW_H[3], 57.0, 0.41)
r127 = make_panel("R127", "Stage in meters N AVD88", YT_M06_12,
                  r127_measured, r127_computed, "R", 491, 24, 26, ROW_H[3], 57.0, 0.844)
taylor = make_panel("Taylor Slough Bridge", "Stage in meters N AVD88", YT_M02_16,
                    taylor_measured, taylor_computed, "L", 48, 25, 24, ROW_H[4], 60.6, 1.242)
harney = make_panel("Harney River Salinity", "Salinity in PSU", YT_SAL,
                    harney_measured, harney_computed, "R", 489, 25, 24, ROW_H[4], 53.7, 36.3)
shark = make_panel("Shark River Salinity", "Salinity in  PSU", YT_SAL,
                   shark_measured, shark_computed, "L", 50, 22, 15, ROW_H[5], 55.5, 37.0)

# legend panel (same vertical borders as the Shark River plot beside it)
lg = figure(width=RIGHT_W, height=ROW_H[5], output_backend="svg", toolbar_location=None,
            x_range=Range1d(0, 1), y_range=Range1d(0, 1),
            x_axis_location=None, y_axis_location=None,
            min_border_left=139, min_border_right=0, min_border_top=22, min_border_bottom=15)
lg.outline_line_color = None
lg.grid.visible = False
lg.background_fill_color = "white"
lg.border_fill_color = "white"
# renderers only supply the legend swatches; their points lie outside the visible range
r_m = lg.line(x=[2, 3], y=[2, 3], line_color=BLUE, line_width=3)
r_c = lg.line(x=[2, 3], y=[2, 3], line_color=RED, line_width=3)
legend = Legend(items=[LegendItem(label=LEGEND_LABELS[0], renderers=[r_m]),
                       LegendItem(label=LEGEND_LABELS[1], renderers=[r_c])],
                location="top_left", orientation="vertical",
                border_line_color=None, background_fill_alpha=0.0,
                padding=0, margin=29, spacing=11,
                glyph_width=42, glyph_height=26, label_height=26, label_standoff=13,
                label_text_font=TITLE_FONT, label_text_font_size="23px",
                label_text_color="#1a1a1a")
lg.add_layout(legend)

layout = column(row(craig, epgw), row(np201, p33), row(p35, p36),
                row(p37, r127), row(taylor, harney), row(shark, lg))

with open("out.html", "w") as f:
    f.write(file_html(layout, INLINE))
